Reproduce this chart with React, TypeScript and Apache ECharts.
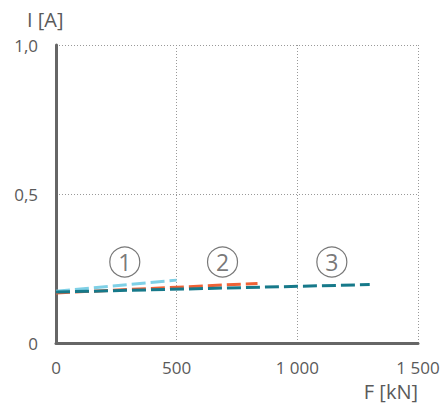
import React, { useEffect, useRef } from "react";
import * as echarts from "echarts";

const xTicks = [0, 500, 1000, 1500];
const yTicks = [0, 0.5, 1.0];
const series1 = [[0, 0.174], [500, 0.211]];
const series2 = [[0, 0.168], [835, 0.2]];
const series3 = [[0, 0.171], [1300, 0.196]];
const markerLabels = ["1", "2", "3"];
const markerPos = [[285, 0.272], [690, 0.272], [1143, 0.272]];
const colors = ["#7fd0e6", "#ef6236", "#16798a"];

export default function App() {
  const ref = useRef<HTMLDivElement>(null);
  useEffect(() => {
    document.body.style.margin = "0";
    const chart = echarts.init(ref.current!, null, { renderer: "svg" });
    const font = "'Open Sans', sans-serif";
    const txt = "#5a5a5a";
    const lineSeries = [series1, series2, series3].map((d, i) => ({
      type: "line",
      data: d,
      symbol: "none",
      lineStyle: { color: colors[i], width: 3, type: [14, 5] },
      z: 3 + i,
    }));
    chart.setOption({
      animation: false,
      grid: { left: 56, right: 25, top: 45, bottom: 66 },
      xAxis: {
        type: "value",
        min: 0,
        max: 1500,
        interval: 500,
        axisLine: { show: true, lineStyle: { color: "#666", width: 3 } },
        axisTick: { show: false },
        splitLine: { show: true, lineStyle: { color: "#999", type: [1, 2], width: 1 } },
        axisLabel: {
          color: txt,
          fontFamily: font,
          fontSize: 17,
          margin: 16,
          formatter: (v: number) => (xTicks.includes(v) ? String(v).replace(/(\d)(\d{3})$/, "$1 $2") : ""),
        },
      },
      yAxis: {
        type: "value",
        min: 0,
        max: 1,
        interval: 0.5,
        axisLine: { show: true, lineStyle: { color: "#666", width: 3 } },
        axisTick: { show: false },
        splitLine: { show: true, lineStyle: { color: "#999", type: [1, 2], width: 1 } },
        axisLabel: {
          color: txt,
          fontFamily: font,
          fontSize: 17,
          margin: 18,
          formatter: (v: number) => (yTicks.includes(v) ? (v === 0 ? "0" : v.toFixed(1).replace(".", ",")) : ""),
        },
      },
      graphic: [
        { type: "text", left: 27, top: 9, style: { text: "I [A]", fill: txt, font: `20px ${font}` } },
        { type: "text", right: 25, top: 381, style: { text: "F [kN]", fill: txt, font: `20px ${font}` } },
      ],
      series: [
        ...lineSeries,
        {
          type: "scatter",
          data: markerPos.map((p, i) => ({ value: p, label: { formatter: markerLabels[i] } })),
          symbol: "circle",
          symbolSize: 30,
          itemStyle: { color: "rgba(255,255,255,0)", borderColor: "#555", borderWidth: 1.2 },
          label: { show: true, position: "inside", color: "#555", fontFamily: font, fontSize: 23 },
          z: 10,
        },
      ],
    });
    return () => chart.dispose();
  }, []);
  return <div ref={ref} style={{ width: 443, height: 409 }} />;
}
